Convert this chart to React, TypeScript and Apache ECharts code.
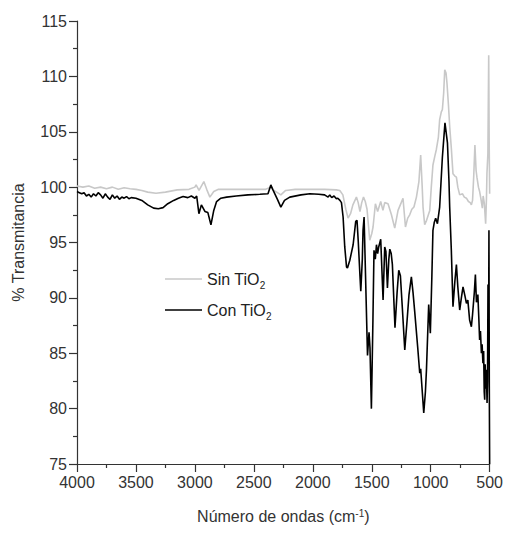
import React, { useEffect, useRef } from "react";
import * as echarts from "echarts";

// X tick labels (wavenumber, cm-1) and Y tick labels (% transmittance)
const xTicks = [4000, 3500, 3000, 2500, 2000, 1500, 1000, 500];
const yTicks = [75, 80, 85, 90, 95, 100, 105, 110, 115];

// Sin TiO2 (light gray)
const sinWave = [
  4000, 3950, 3900, 3850, 3800, 3750, 3700, 3650, 3600, 3550, 3500, 3450, 3400, 3330, 3250, 3150,
  3050, 3000, 2990, 2965, 2924, 2900, 2873, 2840, 2800, 2700, 2600, 2500, 2400, 2356, 2330, 2300,
  2271, 2230, 2150, 2000, 1900, 1800, 1771, 1745, 1720, 1701, 1680, 1660, 1630, 1615, 1600, 1585,
  1570, 1555, 1540, 1517, 1500, 1489, 1469, 1450, 1424, 1405, 1390, 1362, 1333, 1305, 1277, 1250,
  1235, 1214, 1195, 1178, 1160, 1142, 1121, 1100, 1085, 1072, 1065, 1051, 1035, 1008, 995, 981,
  965, 952, 935, 924, 910, 901, 890, 881, 870, 862, 850, 839, 825, 811, 795, 782, 770, 754, 730,
  715, 697, 680, 665, 655, 645, 635, 625, 615, 608, 595, 585, 575, 562, 555, 545, 534, 527, 523,
  515, 508, 504, 500,
];
const sinT = [
  100.1, 100.0, 100.1, 99.9, 100.0, 99.85, 100.0, 99.8, 99.95, 99.85, 99.8, 99.7, 99.55, 99.45, 99.55, 99.75,
  99.8, 100.0, 100.2, 99.7, 100.5, 99.8, 99.1, 99.6, 99.8, 99.8, 99.8, 99.8, 99.8, 100.0, 99.7, 99.5,
  99.3, 99.7, 99.8, 99.8, 99.8, 99.75, 99.7, 99.3, 98.0, 97.2, 97.6, 98.4, 99.1, 98.6, 97.8, 98.6,
  99.1, 98.7, 98.0, 95.2, 95.8, 96.4, 98.5, 97.8, 98.7, 97.9, 98.6, 98.5, 97.5, 96.3, 97.9, 98.6,
  99.0, 96.4, 97.2, 97.5, 98.0, 98.2, 99.1, 100.5, 102.9, 100.0, 98.2, 96.6, 97.0, 97.9, 100.0, 102.0,
  102.8, 103.4, 104.5, 106.1, 106.8, 107.0, 108.5, 110.6, 110.3, 109.4, 107.5, 105.5, 103.5, 101.2, 101.0, 100.9, 100.0, 99.3, 99.4,
  99.1, 99.0, 98.7, 98.6, 98.4, 98.8, 101.0, 103.8, 101.5, 100.9, 100.0, 99.6, 99.0, 98.1, 99.2, 98.5, 96.7, 99.0, 101.2,
  103.0, 111.9, 104.0, 99.4,
];

// Con TiO2 (black)
const conWave = [
  4000, 3980, 3960, 3940, 3920, 3900, 3880, 3860, 3840, 3820, 3800, 3780, 3760, 3740, 3720, 3700,
  3680, 3660, 3640, 3620, 3600, 3580, 3560, 3540, 3500, 3450, 3400, 3350, 3310, 3270, 3230, 3180,
  3140, 3100, 3060, 3030, 3000, 2985, 2966, 2945, 2915, 2890, 2864, 2840, 2816, 2780, 2731, 2650,
  2550, 2449, 2380, 2356, 2340, 2300, 2271, 2240, 2195, 2100, 2025, 1950, 1900, 1870, 1856, 1840,
  1820, 1800, 1788, 1770, 1757, 1743, 1729, 1714, 1706, 1686, 1658, 1636, 1625, 1614, 1600, 1593,
  1580, 1574, 1565, 1555, 1536, 1523, 1515, 1503, 1490, 1481, 1470, 1460, 1450, 1441, 1424, 1404,
  1390, 1380, 1367, 1355, 1347, 1335, 1325, 1303, 1285, 1271, 1257, 1240, 1220, 1200, 1184, 1164,
  1150, 1136, 1110, 1093, 1085, 1059, 1045, 1036, 1017, 1003, 990, 981, 970, 958, 943, 924, 901,
  879, 858, 845, 839, 825, 811, 795, 782, 770, 754, 740, 726, 710, 697, 685, 670, 655, 645, 630,
  621, 612, 600, 592, 585, 578, 570, 564, 557, 551, 546, 542, 538, 533, 528, 522, 518, 514, 511,
  508, 506, 503, 500,
];
const conT = [
  99.6, 99.5, 99.4, 99.5, 99.2, 99.35, 99.1, 99.4, 99.2, 99.5, 99.3, 99.0, 99.4, 99.1, 98.9, 99.3,
  99.0, 99.2, 98.9, 99.1, 99.0, 99.15, 98.95, 99.05, 99.0, 98.8, 98.4, 98.1, 98.05, 98.15, 98.5, 98.8,
  99.0, 99.15, 99.05, 99.2, 99.0, 99.2, 97.6, 98.4, 97.8, 97.7, 96.6, 97.9, 98.7, 99.0, 99.1, 99.2,
  99.3, 99.35, 99.4, 100.2, 99.8, 98.9, 98.2, 98.8, 99.1, 99.3, 99.4, 99.35, 99.3, 99.1, 99.3, 99.05,
  99.2, 98.95, 99.0, 98.8, 98.6, 97.3, 94.6, 92.8, 92.7, 93.4, 94.8, 96.9, 97.0, 95.0, 92.0, 90.6,
  93.5, 96.1, 97.3, 93.0, 84.8, 86.9, 85.5, 80.0, 88.0, 94.3, 93.5, 94.8, 94.0, 94.6, 95.3, 89.8,
  94.6, 94.2, 90.9, 93.5, 94.4, 94.0, 93.0, 87.3, 90.5, 92.5, 92.0, 89.0, 85.3, 88.0, 90.3, 91.9,
  90.5, 88.8, 85.5, 83.2, 83.6, 79.6, 81.5, 83.5, 89.4, 86.8, 92.0, 96.1, 96.8, 97.2, 96.7, 98.2, 102.7,
  105.8, 104.0, 100.5, 98.2, 94.3, 89.2, 91.5, 93.0, 91.0, 88.9, 90.0, 91.0, 90.2, 89.5, 89.8, 88.0, 87.4, 88.5, 90.5,
  92.1, 89.6, 90.3, 88.2, 86.2, 87.0, 85.0, 85.8, 84.1, 85.2, 81.5, 80.8, 84.0, 81.8, 83.5, 80.5, 82.5, 91.2, 84.0,
  89.0, 96.1, 82.0, 75.0,
];

const FONT = "'Liberation Sans', Arial, sans-serif";
const LINE_ICON = "path://M0,0H37V1.6H0Z";

export default function App() {
  const ref = useRef<HTMLDivElement>(null);
  useEffect(() => {
    if (!ref.current) return;
    const chart = echarts.init(ref.current, undefined, { renderer: "svg" });
    const sinData = sinWave.map((w, i) => [w, sinT[i]]);
    const conData = conWave.map((w, i) => [w, conT[i]]);
    chart.setOption({
      animation: false,
      backgroundColor: "#ffffff",
      textStyle: { fontFamily: FONT },
      grid: { left: 77, right: 16, top: 21, bottom: 70, containLabel: false },
      legend: {
        orient: "vertical",
        left: 160,
        top: 266,
        itemWidth: 37,
        itemHeight: 14,
        itemGap: 12,
        symbolKeepAspect: true,
        textStyle: {
          fontFamily: FONT,
          fontSize: 16,
          color: "#222",
          rich: {
            n: { fontFamily: FONT, fontSize: 16, color: "#222", lineHeight: 22 },
            s: { fontFamily: FONT, fontSize: 10, color: "#222", verticalAlign: "bottom", lineHeight: 22 },
          },
        },
        formatter: (name: string) => {
          const base = name.replace(/2$/, "");
          return `{n|${base}}{s|2}`;
        },
        data: [
          { name: "Sin TiO2", icon: LINE_ICON, itemStyle: { color: "#c8c8c8" } },
          { name: "Con TiO2", icon: LINE_ICON, itemStyle: { color: "#000000" } },
        ],
      },
      xAxis: {
        type: "value",
        min: 500,
        max: 4000,
        interval: 500,
        inverse: true,
        name: "Número de ondas (cm{s|-1})",
        nameLocation: "middle",
        nameGap: 44,
        nameTextStyle: {
          fontFamily: FONT,
          fontSize: 16,
          color: "#333",
          rich: {
            s: { fontFamily: FONT, fontSize: 10, color: "#333", verticalAlign: "top" },
          },
        },
        axisLine: { show: true, lineStyle: { color: "#333", width: 1.2 } },
        axisTick: { show: true, inside: false, length: 8, lineStyle: { color: "#333", width: 1.2 } },
        minorTick: { show: true, splitNumber: 2, length: 4, lineStyle: { color: "#333", width: 1.2 } },
        axisLabel: {
          fontFamily: FONT,
          fontSize: 16,
          color: "#333",
          margin: 10,
          formatter: (v: number) => (xTicks.includes(v) ? String(v) : ""),
        },
        splitLine: { show: false },
      },
      yAxis: {
        type: "value",
        min: 75,
        max: 115,
        interval: 5,
        name: "% Transmitancia",
        nameLocation: "middle",
        nameGap: 51,
        nameTextStyle: { fontFamily: FONT, fontSize: 16, color: "#333" },
        axisLine: { show: true, lineStyle: { color: "#333", width: 1.2 } },
        axisTick: { show: true, inside: false, length: 8, lineStyle: { color: "#333", width: 1.2 } },
        minorTick: { show: true, splitNumber: 2, length: 4, lineStyle: { color: "#333", width: 1.2 } },
        axisLabel: {
          fontFamily: FONT,
          fontSize: 16,
          color: "#333",
          margin: 10,
          formatter: (v: number) => (yTicks.includes(v) ? String(v) : ""),
        },
        splitLine: { show: false },
      },
      series: [
        {
          name: "Sin TiO2",
          type: "line",
          data: sinData,
          symbol: "none",
          showSymbol: false,
          lineStyle: { color: "#c8c8c8", width: 1.6 },
          itemStyle: { color: "#c8c8c8" },
          z: 2,
        },
        {
          name: "Con TiO2",
          type: "line",
          data: conData,
          symbol: "none",
          showSymbol: false,
          lineStyle: { color: "#000000", width: 1.6 },
          itemStyle: { color: "#000000" },
          z: 3,
        },
      ],
    });
    return () => chart.dispose();
  }, []);
  return <div ref={ref} style={{ width: 506, height: 534, position: "absolute", left: 0, top: 0 }} />;
}
